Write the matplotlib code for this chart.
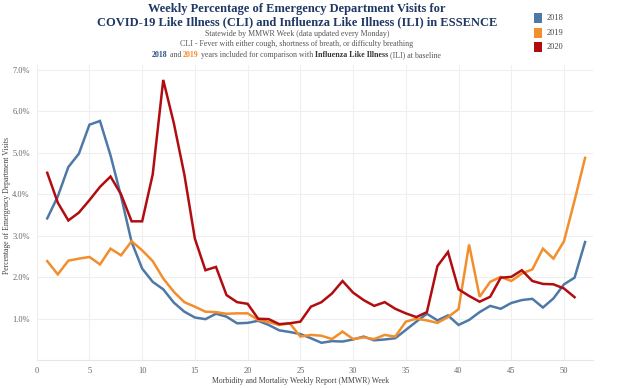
import matplotlib
matplotlib.use("Agg")
import matplotlib.pyplot as plt
from matplotlib.patches import Rectangle

weeks_2018 = list(range(1, 53))
pct_2018 = [3.42, 3.95, 4.66, 4.98, 5.68, 5.77, 4.94, 3.95, 2.85, 2.21, 1.89, 1.71, 1.39, 1.17,
            1.03, 0.99, 1.12, 1.05, 0.89, 0.90, 0.95, 0.85, 0.72, 0.68, 0.63, 0.53, 0.42, 0.46,
            0.45, 0.50, 0.57, 0.48, 0.50, 0.53, 0.73, 0.93, 1.12, 0.96, 1.08, 0.85, 0.97, 1.16,
            1.31, 1.24, 1.38, 1.45, 1.48, 1.27, 1.49, 1.83, 1.99, 2.85]

weeks_2019 = list(range(1, 53))
pct_2019 = [2.39, 2.07, 2.40, 2.45, 2.49, 2.31, 2.69, 2.53, 2.87, 2.65, 2.39, 1.97, 1.65, 1.40,
            1.29, 1.17, 1.16, 1.12, 1.13, 1.13, 0.97, 0.92, 0.85, 0.89, 0.57, 0.61, 0.59, 0.51,
            0.69, 0.51, 0.55, 0.51, 0.61, 0.57, 0.93, 1.00, 0.96, 0.90, 1.04, 1.23, 2.79, 1.53,
            1.89, 2.01, 1.91, 2.09, 2.19, 2.69, 2.45, 2.87, 3.85, 4.88]

weeks_2020 = list(range(1, 52))
pct_2020 = [4.52, 3.80, 3.37, 3.56, 3.86, 4.18, 4.43, 4.00, 3.35, 3.35, 4.48, 6.76, 5.72, 4.48,
            2.93, 2.17, 2.25, 1.57, 1.40, 1.36, 1.00, 0.99, 0.87, 0.89, 0.93, 1.29, 1.40, 1.61,
            1.91, 1.63, 1.45, 1.31, 1.40, 1.24, 1.13, 1.04, 1.16, 2.27, 2.61, 1.71, 1.55, 1.41,
            1.53, 1.99, 2.01, 2.17, 1.91, 1.84, 1.83, 1.73, 1.52]

series_labels = ["2018", "2019", "2020"]
series_colors = ["#4e79a7", "#f28e2b", "#b10d10"]
x_ticks = [0, 5, 10, 15, 20, 25, 30, 35, 40, 45, 50]
y_ticks = [1, 2, 3, 4, 5, 6, 7]
y_tick_labels = ["1.0%", "2.0%", "3.0%", "4.0%", "5.0%", "6.0%", "7.0%"]

W, H = 624, 388
fig = plt.figure(figsize=(W / 100, H / 100), dpi=100)
serif = ["Liberation Serif", "DejaVu Serif"]

ax = fig.add_axes([36.7 / W, 1 - 360.2 / H, (593 - 36.7) / W, (360.2 - 65) / H])
for wk, vals, c in zip([weeks_2018, weeks_2019, weeks_2020], [pct_2018, pct_2019, pct_2020], series_colors):
    ax.plot(wk, vals, color=c, lw=1.8, solid_joinstyle="miter", zorder=3)

ax.set_xlim(0, 52.75)
ax.set_ylim(0, 7.12)
ax.set_xticks(x_ticks)
ax.set_xticklabels([str(t) for t in x_ticks], family=serif, fontsize=6, color="#666666")
ax.set_yticks(y_ticks)
ax.set_yticklabels(y_tick_labels, family=serif, fontsize=6, color="#666666")
ax.tick_params(axis="y", length=0, pad=5)
ax.tick_params(axis="x", length=0, pad=5)
ax.grid(True, color="#efefef", lw=0.8)
for s in ["top", "right", "left"]:
    ax.spines[s].set_visible(False)
ax.spines["bottom"].set_color("#e6e6e6")
ax.spines["bottom"].set_linewidth(0.8)

fig.text(7 / W, 1 - 205 / H, "Percentage of Emergency Department Visits", rotation=90,
         ha="center", va="center", family=serif, fontsize=5.6, color="#444444")
fig.text(301 / W, 1 - 381 / H, "Morbidity and Mortality Weekly Report (MMWR) Week",
         ha="center", va="center", family=serif, fontsize=5.6, color="#444444")

title_color = "#1f3864"
fig.text(297 / W, 1 - 9 / H, "Weekly Percentage of Emergency Department Visits for",
         ha="center", va="center", family=serif, fontsize=9, fontweight="bold", color=title_color)
fig.text(297 / W, 1 - 22 / H, "COVID-19 Like Illness (CLI) and Influenza Like Illness (ILI) in ESSENCE",
         ha="center", va="center", family=serif, fontsize=9, fontweight="bold", color=title_color)
fig.text(297 / W, 1 - 34 / H, "Statewide by MMWR Week (data updated every Monday)",
         ha="center", va="center", family=serif, fontsize=5.7, color="#555555")
fig.text(297 / W, 1 - 44.5 / H, "CLI - Fever with either cough, shortness of breath, or difficulty breathing",
         ha="center", va="center", family=serif, fontsize=5.7, color="#555555")

pieces = [("2018", "#2e4f85", "bold"), (" and ", "#555555", "normal"),
          ("2019", series_colors[1], "bold"), (" years included for comparison with ", "#555555", "normal"),
          ("Influenza Like Illness", "#333333", "bold"), (" (ILI) at baseline", "#555555", "normal")]
last = fig.text(152 / W, 1 - 55 / H, pieces[0][0], ha="left", va="center", family=serif,
                fontsize=5.7, color=pieces[0][1], fontweight=pieces[0][2])
for txt, col, wt in pieces[1:]:
    last = fig.text(0, 0, txt, ha="left", va="center", family=serif, fontsize=5.7,
                    color=col, fontweight=wt)
    last._chain_prev = None

# chain the pieces horizontally after a draw to measure widths
fig.canvas.draw()
renderer = fig.canvas.get_renderer()
chain = fig.texts[-len(pieces):]
x_px = 152
for t in chain:
    t.set_position((x_px / W, 1 - 55 / H))
    bb = t.get_window_extent(renderer)
    x_px += bb.width

for i, (lab, col) in enumerate(zip(series_labels, series_colors)):
    yc = [18, 33, 47][i]
    fig.patches.append(Rectangle((534 / W, 1 - (yc + 5) / H), 8 / W, 10 / H, transform=fig.transFigure,
                                 facecolor=col, edgecolor="none", figure=fig))
    fig.text(547 / W, 1 - yc / H, lab, ha="left", va="center", family=serif, fontsize=6, color="#444444")

fig.savefig("out.png", dpi=100)
